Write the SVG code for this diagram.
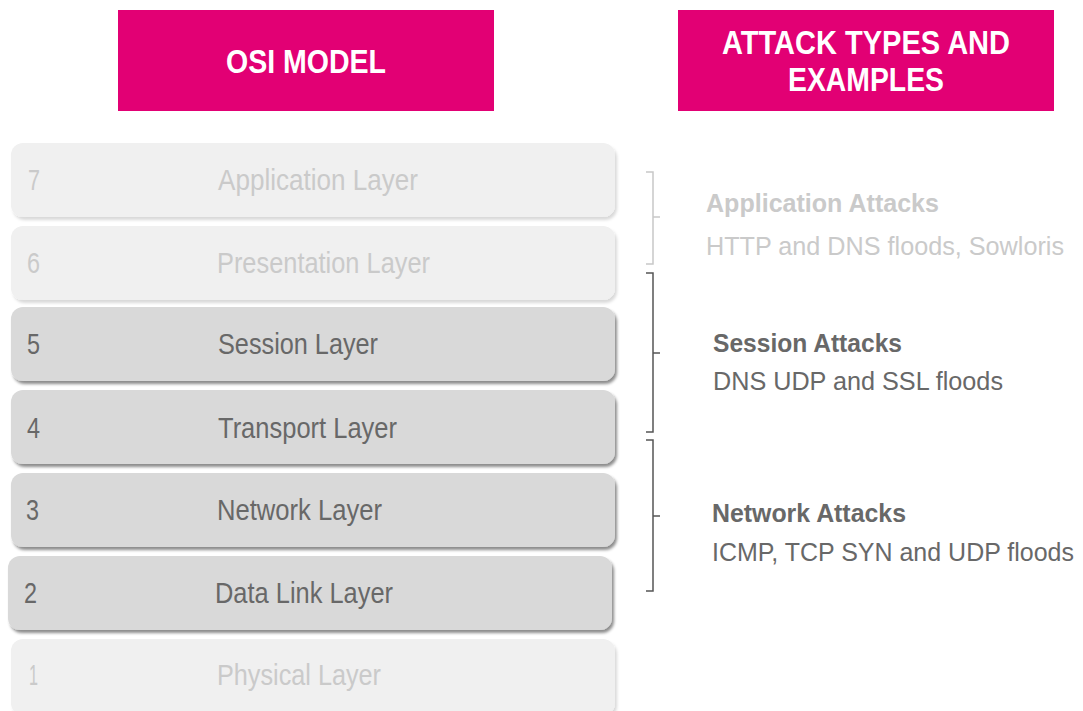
<svg xmlns="http://www.w3.org/2000/svg" width="1083" height="711" viewBox="0 0 1083 711">
<defs>
<style>
.hdr{fill:#e20074}
.hdrt{font-family:"Liberation Sans",Arial,sans-serif;font-weight:bold;font-size:34px;fill:#fff}
.lite{fill:#f0f0f0;filter:url(#shL)}
.dark{fill:#d9d9d9;filter:url(#shD)}
.lt{font-family:"Liberation Sans",Arial,sans-serif;font-size:30px}
.tl{fill:#cacaca}
.td{fill:#686868}
.at{font-family:"Liberation Sans",Arial,sans-serif;font-size:25.5px}
.b{font-weight:bold}
.brL{fill:none;stroke:#c8c8c8;stroke-width:1.5}
.brD{fill:none;stroke:#555;stroke-width:1.5}
</style>
<filter id="shD" x="-5%" y="-20%" width="110%" height="150%">
<feDropShadow dx="2" dy="3" stdDeviation="1.5" flood-color="#000" flood-opacity="0.45"/>
</filter>
<filter id="shL" x="-5%" y="-20%" width="110%" height="150%">
<feDropShadow dx="2" dy="3" stdDeviation="1.5" flood-color="#000" flood-opacity="0.15"/>
</filter>
</defs>
<rect width="1083" height="711" fill="#fff"/>
<g id="hdr-osi">
<rect class="hdr" x="118" y="10" width="376" height="101"/>
<text class="hdrt" x="226" y="73" textLength="160" lengthAdjust="spacingAndGlyphs">OSI MODEL</text>
</g>
<g id="hdr-attack">
<rect class="hdr" x="678" y="10" width="376" height="101"/>
<text class="hdrt" x="722" y="54" textLength="288" lengthAdjust="spacingAndGlyphs">ATTACK TYPES AND</text>
<text class="hdrt" x="788" y="91" textLength="156" lengthAdjust="spacingAndGlyphs">EXAMPLES</text>
</g>
<g id="layer7">
<rect class="lite" x="11" y="143" width="604" height="74" rx="12"/>
<text class="lt tl" x="28" y="190" textLength="12" lengthAdjust="spacingAndGlyphs">7</text>
<text class="lt tl" x="218" y="190" textLength="200" lengthAdjust="spacingAndGlyphs">Application Layer</text>
</g>
<g id="layer6">
<rect class="lite" x="11" y="226" width="604" height="74" rx="12"/>
<text class="lt tl" x="27" y="273" textLength="13" lengthAdjust="spacingAndGlyphs">6</text>
<text class="lt tl" x="217" y="273" textLength="213" lengthAdjust="spacingAndGlyphs">Presentation Layer</text>
</g>
<g id="layer5">
<rect class="dark" x="11" y="307" width="604" height="74" rx="12"/>
<text class="lt td" x="27" y="354" textLength="13" lengthAdjust="spacingAndGlyphs">5</text>
<text class="lt td" x="218" y="354" textLength="160" lengthAdjust="spacingAndGlyphs">Session Layer</text>
</g>
<g id="layer4">
<rect class="dark" x="11" y="390" width="604" height="74" rx="12"/>
<text class="lt td" x="27" y="438" textLength="13" lengthAdjust="spacingAndGlyphs">4</text>
<text class="lt td" x="218" y="438" textLength="179" lengthAdjust="spacingAndGlyphs">Transport Layer</text>
</g>
<g id="layer3">
<rect class="dark" x="11" y="473" width="604" height="74" rx="12"/>
<text class="lt td" x="26" y="520" textLength="13" lengthAdjust="spacingAndGlyphs">3</text>
<text class="lt td" x="217" y="520" textLength="165" lengthAdjust="spacingAndGlyphs">Network Layer</text>
</g>
<g id="layer2">
<rect class="dark" x="8" y="556" width="604" height="74" rx="12"/>
<text class="lt td" x="24" y="603" textLength="13" lengthAdjust="spacingAndGlyphs">2</text>
<text class="lt td" x="215" y="603" textLength="178" lengthAdjust="spacingAndGlyphs">Data Link Layer</text>
</g>
<g id="layer1">
<rect class="lite" x="11" y="639" width="604" height="76" rx="12"/>
<text class="lt tl" x="29" y="685" textLength="9" lengthAdjust="spacingAndGlyphs">1</text>
<text class="lt tl" x="217" y="685" textLength="164" lengthAdjust="spacingAndGlyphs">Physical Layer</text>
</g>
<g id="connectors">
<path class="brL" d="M646 172 H653 V264 H646 M653 217 H660"/>
<path class="brD" d="M646 273 H653 V432 H646 M653 353 H660"/>
<path class="brD" d="M646 440 H653 V591 H646 M653 516 H660"/>
</g>
<g id="attack-app">
<text class="at b tl" x="706" y="212" textLength="233" lengthAdjust="spacingAndGlyphs">Application Attacks</text>
<text class="at tl" x="706" y="255" textLength="358" lengthAdjust="spacingAndGlyphs">HTTP and DNS floods, Sowloris</text>
</g>
<g id="attack-session">
<text class="at b td" x="713" y="352" textLength="189" lengthAdjust="spacingAndGlyphs">Session Attacks</text>
<text class="at td" x="713" y="390" textLength="290" lengthAdjust="spacingAndGlyphs">DNS UDP and SSL floods</text>
</g>
<g id="attack-network">
<text class="at b td" x="712" y="522" textLength="194" lengthAdjust="spacingAndGlyphs">Network Attacks</text>
<text class="at td" x="712" y="561" textLength="362" lengthAdjust="spacingAndGlyphs">ICMP, TCP SYN and UDP floods</text>
</g>
</svg>
